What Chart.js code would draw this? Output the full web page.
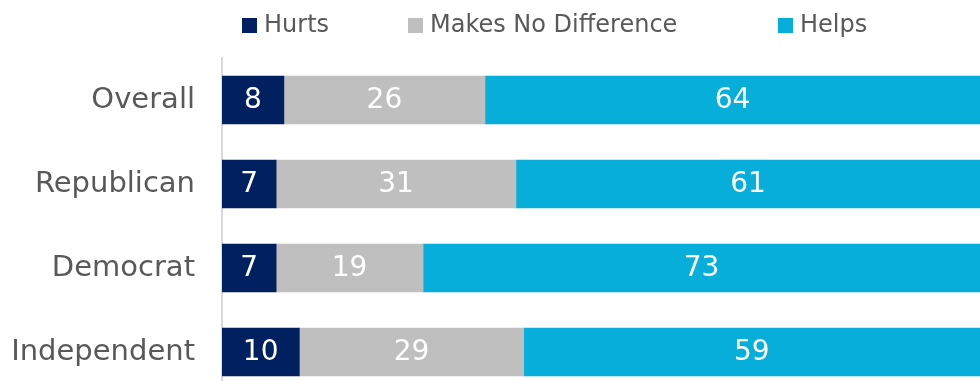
<!DOCTYPE html>
<html>
<head>
<meta charset="utf-8">
<script src="https://cdn.jsdelivr.net/npm/chart.js@4"></script>
<style>
  html, body { margin: 0; padding: 0; overflow: hidden; background: #fff; }
  #wrap { position: relative; width: 980px; height: 394px; }
</style>
</head>
<body>
<div id="wrap"><canvas id="chart"></canvas></div>
<script>
// data
const groups = ["Overall", "Republican", "Democrat", "Independent"];
const hurts = [8, 7, 7, 10];
const noDifference = [26, 31, 19, 29];
const helps = [64, 61, 73, 59];

const seriesNames = ["Hurts", "Makes No Difference", "Helps"];
const seriesColors = ["#00205f", "#bfbfbf", "#07aed9"];

const FONT = "'DejaVu Sans', sans-serif";
const TEXT_GREY = "#595959";

// legend is laid out by hand, the gaps are uneven in the original
const legendX = [242, 408, 778];

const legendPlugin = {
  id: 'topLegend',
  afterDraw(chart) {
    const ctx = chart.ctx;
    ctx.save();
    ctx.font = "24px " + FONT;
    ctx.textBaseline = 'middle';
    ctx.textAlign = 'left';
    seriesNames.forEach((name, i) => {
      const x = legendX[i];
      ctx.fillStyle = seriesColors[i];
      ctx.fillRect(x, 18, 15, 15);
      ctx.fillStyle = TEXT_GREY;
      ctx.fillText(name, x + 22, 26);
    });
    ctx.restore();
  }
};

const barLabels = {
  id: 'barLabels',
  afterDatasetsDraw(chart) {
    const ctx = chart.ctx;
    const area = chart.chartArea;
    ctx.save();
    ctx.font = "28px " + FONT;
    ctx.fillStyle = "#ffffff";
    ctx.textAlign = 'center';
    ctx.textBaseline = 'middle';
    chart.data.datasets.forEach((ds, di) => {
      chart.getDatasetMeta(di).data.forEach((bar, i) => {
        const left = Math.max(bar.base, area.left);
        const right = Math.min(bar.x, area.right);
        ctx.fillText(String(ds.data[i]), (left + right) / 2, bar.y + 1);
      });
    });
    ctx.restore();
  }
};

new Chart(document.getElementById('chart').getContext('2d'), {
  type: 'bar',
  data: {
    labels: groups,
    datasets: [
      { label: seriesNames[0], data: hurts, backgroundColor: seriesColors[0] },
      { label: seriesNames[1], data: noDifference, backgroundColor: seriesColors[1] },
      { label: seriesNames[2], data: helps, backgroundColor: seriesColors[2] }
    ]
  },
  options: {
    indexAxis: 'y',
    responsive: true,
    maintainAspectRatio: false,
    animation: false,
    devicePixelRatio: 1,
    layout: { padding: { top: 58, right: 0, bottom: 0, left: 0 } },
    datasets: { bar: { barThickness: 48, borderWidth: 0 } },
    plugins: {
      legend: { display: false },
      tooltip: { enabled: false }
    },
    scales: {
      x: { stacked: true, display: false, min: 0, max: 98 },
      y: {
        stacked: true,
        grid: { display: false, drawTicks: false },
        border: { display: true, color: "#d9d9d9", width: 2 },
        ticks: { color: TEXT_GREY, font: { family: FONT, size: 29 }, padding: 27 },
        afterFit(scale) {
          scale.width = 222;
          // the bottom bar runs off the picture in the original
          scale.paddingTop = 0;
          scale.paddingBottom = 0;
        }
      }
    }
  },
  plugins: [legendPlugin, barLabels]
});
</script>
</body>
</html>
